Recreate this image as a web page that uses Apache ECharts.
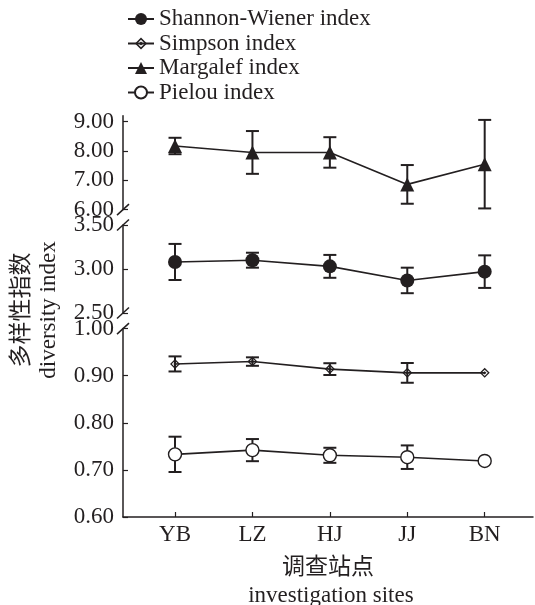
<!DOCTYPE html>
<html>
<head>
<meta charset="utf-8">
<script src="https://cdn.jsdelivr.net/npm/echarts@6/dist/echarts.min.js"></script>
<style>
html,body{margin:0;padding:0;background:#fff;}
#chart{width:535px;height:605px;}
</style>
</head>
<body>
<div id="chart"></div>
<script>
// ---- data ----
var sites = ['YB', 'LZ', 'HJ', 'JJ', 'BN'];
var shannonMean = [3.08, 3.10, 3.03, 2.87, 2.97];
var shannonSD   = [0.205, 0.085, 0.13, 0.145, 0.185];
var simpsonMean = [0.925, 0.930, 0.914, 0.906, 0.906];
var simpsonSD   = [0.016, 0.009, 0.0125, 0.021, 0];
var margalefMean = [8.17, 7.95, 7.95, 6.86, 7.55];
var margalefSD   = [0.28, 0.73, 0.52, 0.66, 1.51];
var pielouMean = [0.733, 0.742, 0.731, 0.727, 0.719];
var pielouSD   = [0.0375, 0.0235, 0.016, 0.025, 0];
var topTicks = [6, 7, 8, 9];
var midTicks = [2.5, 3.0, 3.5];
var lowTicks = [0.6, 0.7, 0.8, 0.9, 1.0];
var siteTicks = [0, 1, 2, 3, 4];

var INK = '#231f20';
var FONT = "'Liberation Serif', 'Times New Roman', 'Noto Sans CJK SC', serif";
var XMIN = -0.672, XMAX = 4.624;

function pairs(mean) { return mean.map(function (v, i) { return [i, v]; }); }
function triples(mean, sd) { return mean.map(function (v, i) { return [i, v, sd[i]]; }); }

function errRender(params, api) {
  var x = api.value(0), y = api.value(1), e = api.value(2);
  if (!e) return null;
  var hi = api.coord([x, y + e]), lo = api.coord([x, y - e]);
  var w = 6.5;
  var st = { stroke: INK, lineWidth: 2 };
  return {
    type: 'group',
    children: [
      { type: 'line', shape: { x1: hi[0], y1: hi[1], x2: lo[0], y2: lo[1] }, style: st },
      { type: 'line', shape: { x1: hi[0] - w, y1: hi[1], x2: hi[0] + w, y2: hi[1] }, style: st },
      { type: 'line', shape: { x1: lo[0] - w, y1: lo[1], x2: lo[0] + w, y2: lo[1] }, style: st }
    ]
  };
}

var grids = [
  { left: 123, width: 410, top: 115.8, height: 93.8, outerBoundsMode: 'none' },
  { left: 123, width: 410, top: 225, height: 88, outerBoundsMode: 'none' },
  { left: 123, width: 410, top: 328.6, height: 188.4, outerBoundsMode: 'none' }
];
var yRanges = [[6, 9.2, topTicks], [2.5, 3.5, midTicks], [0.6, 1.0, lowTicks]];

var xAxes = [0, 1, 2].map(function (g) {
  var show = g === 2;
  return {
    type: 'value', gridIndex: g, min: XMIN, max: XMAX,
    axisLine: { show: show, onZero: false, lineStyle: { color: INK, width: 1.5 } },
    axisTick: { show: show, inside: true, length: 5, customValues: siteTicks, lineStyle: { color: INK, width: 1.2 } },
    axisLabel: {
      show: show, customValues: siteTicks, margin: 6,
      formatter: function (v) { return sites[Math.round(v)]; },
      color: INK, fontFamily: FONT, fontSize: 23
    },
    splitLine: { show: false },
    name: show ? '调查站点\n investigation sites' : '',
    nameLocation: 'middle', nameGap: 37,
    nameTextStyle: { color: INK, fontFamily: FONT, fontSize: 23, lineHeight: 28 }
  };
});

var yAxes = yRanges.map(function (r, g) {
  return {
    type: 'value', gridIndex: g, min: r[0], max: r[1],
    axisLine: { show: true, onZero: false, lineStyle: { color: INK, width: 1.5 } },
    axisTick: { show: true, inside: true, length: 5, customValues: r[2], lineStyle: { color: INK, width: 1.2 } },
    axisLabel: {
      customValues: r[2], margin: 9,
      formatter: function (v) { return v.toFixed(2); },
      color: INK, fontFamily: FONT, fontSize: 23
    },
    splitLine: { show: false }
  };
});

var simpsonSymbol = 'path://M5,0 L10,5 L5,10 L0,5 Z M5,1.8 L1.8,5 L5,8.2 L8.2,5 Z M5,3.3 L6.7,5 L5,6.7 L3.3,5 Z';

function lineSeries(name, g, mean, symbol, size, fill) {
  return {
    name: name, type: 'line', xAxisIndex: g, yAxisIndex: g,
    data: pairs(mean), symbol: symbol, symbolSize: size, z: 5,
    lineStyle: { color: INK, width: 1.6 },
    itemStyle: { color: fill, borderColor: INK, borderWidth: fill === '#fff' ? 1.4 : 0 },
    emphasis: { disabled: true }, animation: false
  };
}
function errSeries(g, mean, sd) {
  return {
    type: 'custom', xAxisIndex: g, yAxisIndex: g, z: 2,
    data: triples(mean, sd), renderItem: errRender, animation: false, silent: true
  };
}

var option = {
  backgroundColor: '#fff',
  animation: false,
  legend: {
    orient: 'vertical', left: 122, top: 2, itemGap: 0.5,
    itemWidth: 26, itemHeight: 15,
    data: ['Shannon-Wiener index', 'Simpson index', 'Margalef index', 'Pielou index'],
    textStyle: { color: INK, fontFamily: FONT, fontSize: 23, lineHeight: 24 },
    selectedMode: false
  },
  grid: grids,
  xAxis: xAxes,
  yAxis: yAxes,
  series: [
    errSeries(0, margalefMean, margalefSD),
    errSeries(1, shannonMean, shannonSD),
    errSeries(2, simpsonMean, simpsonSD),
    errSeries(2, pielouMean, pielouSD),
    lineSeries('Shannon-Wiener index', 1, shannonMean, 'circle', 14, INK),
    lineSeries('Simpson index', 2, simpsonMean, simpsonSymbol, 10, INK),
    lineSeries('Margalef index', 0, margalefMean, 'triangle', 14, INK),
    lineSeries('Pielou index', 2, pielouMean, 'circle', 13, '#fff')
  ]
};

var chart = echarts.init(document.getElementById('chart'), null, { renderer: 'canvas' });
chart.setOption(option);

// axis-break slashes at segment ends + rotated y title
var ends = [[0, 6], [1, 3.5], [1, 2.5], [2, 1.0]];
var gfx = ends.map(function (e) {
  var p = chart.convertToPixel({ gridIndex: e[0] }, [XMIN, e[1]]);
  return {
    type: 'line', shape: { x1: p[0] - 6, y1: p[1] + 5.5, x2: p[0] + 6, y2: p[1] - 5.5 },
    style: { stroke: INK, lineWidth: 1.5 }, z: 10
  };
});
gfx.push({
  type: 'text', x: 35, y: 310, rotation: Math.PI / 2,
  style: {
    text: '多样性指数\ndiversity index', fill: INK, font: "23px " + FONT,
    align: 'center', verticalAlign: 'middle', lineHeight: 27
  }
});
chart.setOption({ graphic: gfx });
</script>
</body>
</html>
